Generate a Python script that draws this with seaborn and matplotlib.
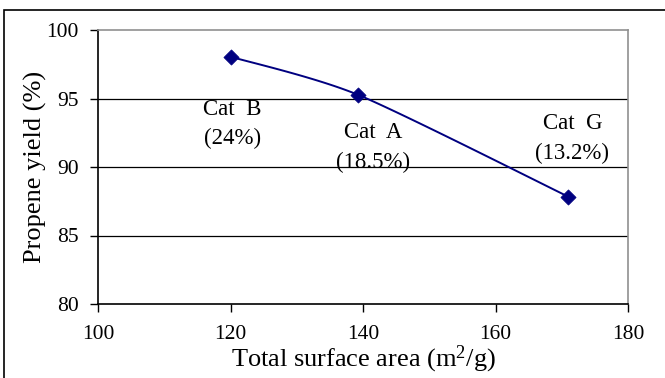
import numpy as np
import pandas as pd
import matplotlib
matplotlib.use("Agg")
import matplotlib.pyplot as plt
from matplotlib.patches import Rectangle
import seaborn as sns

# Catalyst data
catalysts = ["Cat  B", "Cat  A", "Cat  G"]
surface_area = [120.0, 139.3, 171.0]
propene_yield = [98.05, 95.26, 87.83]
ratio_labels = ["(24%)", "(18.5%)", "(13.2%)"]
x_ticks = [100, 120, 140, 160, 180]
y_ticks = [80, 85, 90, 95, 100]

sns.set_theme(style="white")
plt.rcParams["font.family"] = ["Liberation Serif", "DejaVu Serif"]
plt.rcParams["mathtext.fontset"] = "custom"
plt.rcParams["mathtext.rm"] = "Liberation Serif"
plt.rcParams["mathtext.it"] = "Liberation Serif"


def smooth_curve(xs, ys, tension=1 / 8, n=40):
    """Bezier smoothing through the points (spreadsheet-style smoothed line)."""
    p = np.column_stack([xs, ys]).astype(float)
    pts = np.vstack([p[0], p, p[-1]])
    out = []
    t = np.linspace(0, 1, n)[:, None]
    for i in range(1, len(pts) - 2):
        p0, p1, p2, p3 = pts[i - 1], pts[i], pts[i + 1], pts[i + 2]
        c1 = p1 + (p2 - p0) * tension
        c2 = p2 - (p3 - p1) * tension
        seg = ((1 - t) ** 3) * p1 + 3 * ((1 - t) ** 2) * t * c1 + 3 * (1 - t) * t ** 2 * c2 + t ** 3 * p2
        out.append(seg if i == 1 else seg[1:])
    out = np.vstack(out)
    return out[:, 0], out[:, 1]


fig = plt.figure(figsize=(6.65, 3.78), dpi=100)
ax = fig.add_axes([98 / 665, 1 - 304 / 378, 530 / 665, 274 / 378])

# outer chart frame
fig.patches.append(Rectangle((4 / 665, -0.05), 1.1, 1 - 10 / 378 + 0.05,
                             transform=fig.transFigure, fill=False,
                             edgecolor="black", linewidth=1.2))

sx, sy = smooth_curve(surface_area, propene_yield)
curve = pd.DataFrame({"area": sx, "yield": sy})
pts = pd.DataFrame({"area": surface_area, "yield": propene_yield, "cat": catalysts})

sns.lineplot(data=curve, x="area", y="yield", ax=ax, color="#000080",
             linewidth=1.4, sort=False, estimator=None)
sns.scatterplot(data=pts, x="area", y="yield", ax=ax, color="#000080",
                marker="D", s=60, edgecolor="#000080", linewidth=0.5, zorder=5)

# annotations
label_pos = [(120.3, 94.2, 92.05), (141.5, 92.5, 90.3), (171.6, 93.2, 91.0)]
for name, ratio, (lx, ly1, ly2) in zip(catalysts, ratio_labels, label_pos):
    ax.text(lx, ly1, name, ha="center", va="center", fontsize=16.5, color="black")
    ax.text(lx, ly2, ratio, ha="center", va="center", fontsize=16.5, color="black")

ax.set_xlim(100, 180)
ax.set_ylim(80, 100)
ax.set_xticks(x_ticks)
ax.set_yticks(y_ticks)
ax.set_xticklabels([str(v) for v in x_ticks], fontsize=15.5)
ax.set_yticklabels([str(v) for v in y_ticks], fontsize=15.5)
ax.tick_params(axis="both", direction="out", length=6, width=1, color="black",
               bottom=True, left=True, labelcolor="black")
ax.tick_params(axis="x", pad=9)
ax.tick_params(axis="y", pad=8)

for v in y_ticks[1:-1]:
    ax.axhline(v, color="black", linewidth=0.9, zorder=1)

ax.spines["left"].set_color("black")
ax.spines["bottom"].set_color("black")
ax.spines["left"].set_linewidth(1.2)
ax.spines["bottom"].set_linewidth(1.2)
ax.spines["top"].set_color("#909090")
ax.spines["right"].set_color("#909090")
ax.spines["top"].set_linewidth(1.2)
ax.spines["right"].set_linewidth(1.2)

ax.set_xlabel(r"Total surface area (m$^2$/g)", fontsize=19, color="black")
ax.set_ylabel("Propene yield (%)", fontsize=19, color="black")
ax.xaxis.set_label_coords(0.5, -0.145)
ax.yaxis.set_label_coords(-0.097, 0.5)

fig.savefig("out.png", dpi=100)
